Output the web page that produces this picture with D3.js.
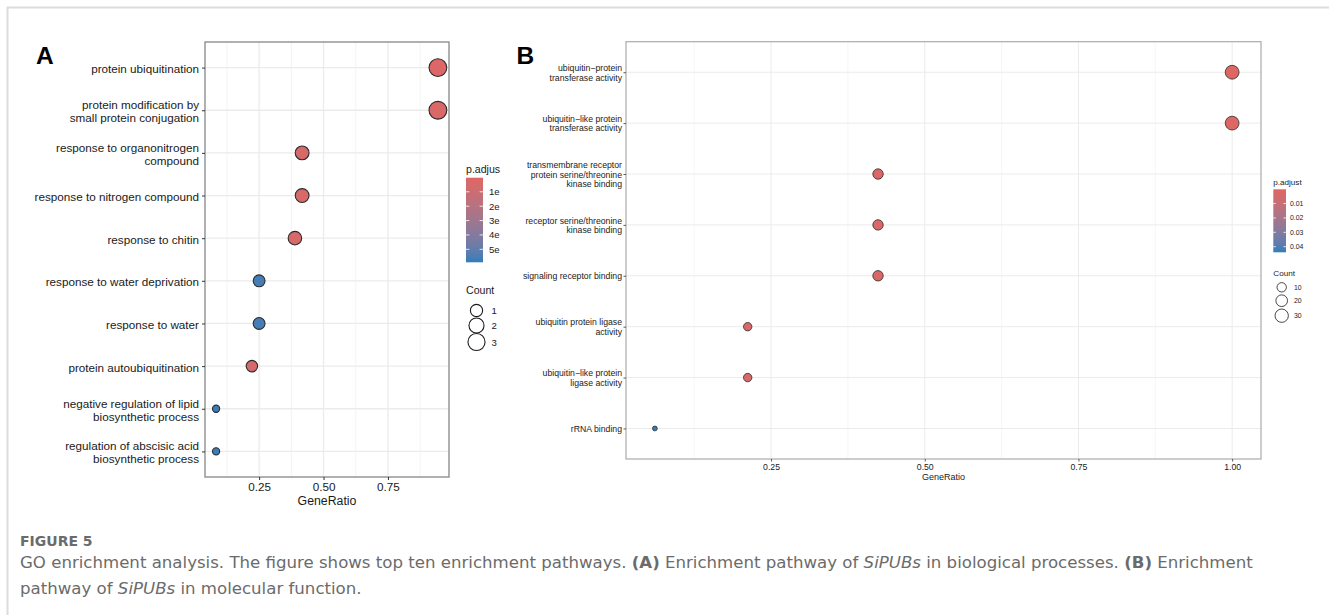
<!DOCTYPE html>
<html><head><meta charset="utf-8">
<script src="https://cdn.jsdelivr.net/npm/d3@7"></script>
<style>body{margin:0;background:#fff}svg{display:block}</style>
</head><body>
<svg id="chart" width="1329" height="615"></svg>
<script>
// ---------- DATA ----------
// Panel A: biological process (top -> bottom)
const categoriesA = [
  "protein ubiquitination",
  "protein modification by\nsmall protein conjugation",
  "response to organonitrogen\ncompound",
  "response to nitrogen compound",
  "response to chitin",
  "response to water deprivation",
  "response to water",
  "protein autoubiquitination",
  "negative regulation of lipid\nbiosynthetic process",
  "regulation of abscisic acid\nbiosynthetic process"
];
const geneRatioA = [0.944, 0.944, 0.417, 0.417, 0.389, 0.25, 0.25, 0.222, 0.083, 0.083];
const countA     = [34, 34, 15, 15, 14, 9, 9, 8, 3, 3];
const pAdjustA   = [0.2, 0.3, 0.4, 0.4, 0.5, 5.6, 5.6, 0.6, 5.8, 5.8]; // x 1e-05 (labels truncated in figure)
const xTicksA = [0.25, 0.5, 0.75];
const xTickLabelsA = ["0.25", "0.50", "0.75"];
const colorTicksA = [1, 2, 3, 4, 5];
const colorTickLabelsA = ["1e", "2e", "3e", "4e", "5e"];
const sizeTicksA = [10, 20, 30];
const sizeTickLabelsA = ["1", "2", "3"];

// Panel B: molecular function (top -> bottom)
const categoriesB = [
  "ubiquitin\u2212protein\ntransferase activity",
  "ubiquitin\u2212like protein\ntransferase activity",
  "transmembrane receptor\nprotein serine/threonine\nkinase binding",
  "receptor serine/threonine\nkinase binding",
  "signaling receptor binding",
  "ubiquitin protein ligase\nactivity",
  "ubiquitin\u2212like protein\nligase activity",
  "rRNA binding"
];
const geneRatioB = [1.0, 1.0, 0.424, 0.424, 0.424, 0.212, 0.212, 0.061];
const countB     = [33, 33, 14, 14, 14, 7, 7, 2];
const pAdjustB   = [0.0008, 0.0009, 0.0020, 0.0020, 0.0025, 0.0035, 0.0035, 0.0439];
const xTicksB = [0.25, 0.5, 0.75, 1.0];
const xTickLabelsB = ["0.25", "0.50", "0.75", "1.00"];
const colorTicksB = [0.01, 0.02, 0.03, 0.04];
const colorTickLabelsB = ["0.01", "0.02", "0.03", "0.04"];
const sizeTicksB = [10, 20, 30];
const sizeTickLabelsB = ["10", "20", "30"];

const lowColor = "#e06663", highColor = "#327eba";
const FONT = "'Liberation Sans', Arial, Helvetica, sans-serif";

const svg = d3.select("#chart");

// outer frame lines
svg.append("line").attr("x1", 7).attr("x2", 1329).attr("y1", 7.5).attr("y2", 7.5)
  .attr("stroke", "#dcdcdc").attr("stroke-width", 2);
svg.append("line").attr("x1", 7.5).attr("x2", 7.5).attr("y1", 7).attr("y2", 615)
  .attr("stroke", "#dcdcdc").attr("stroke-width", 2);

const defs = svg.append("defs");

function drawPanel(o) {
  const g = svg.append("g");
  const data = o.cats.map((c, i) => ({cat: c, ratio: o.ratio[i], count: o.count[i], p: o.padj[i]}));
  const ext = d3.extent(o.ratio), pad = (ext[1] - ext[0]) * 0.05;
  const x = d3.scaleLinear().domain([ext[0] - pad, ext[1] + pad]).range([o.left, o.right]);
  const y = d3.scalePoint().domain(o.cats).range([o.top, o.bottom]).padding(0.6);
  const cMin = d3.min(o.count), cMax = d3.max(o.count);
  const rs = d3.scaleSqrt().domain([0, cMax - cMin]).range([0, o.rMax - o.rMin]);
  const r = c => o.rMin + rs(Math.max(0, c - cMin));
  const colorPos = d3.scaleLinear().domain(o.colorDomain).range([o.cbTop, o.cbBottom]);
  const colorT = d3.scaleLinear().domain(o.colorDomain).range([0, 1]);
  const interp = d3.interpolateLab(lowColor, highColor);
  const col = v => interp(colorT(v));

  // grid
  const minor = [];
  const br = o.xTicks;
  const step = br[1] - br[0];
  for (let v = br[0] - step / 2; v <= x.domain()[1]; v += step) if (v >= x.domain()[0]) minor.push(v);
  g.selectAll(".minor").data(minor).join("line")
    .attr("x1", d => x(d)).attr("x2", d => x(d)).attr("y1", o.top).attr("y2", o.bottom)
    .attr("stroke", "#f2f2f2").attr("stroke-width", o.gridW * 0.7);
  g.selectAll(".majx").data(br.filter(v => v <= x.domain()[1])).join("line")
    .attr("x1", d => x(d)).attr("x2", d => x(d)).attr("y1", o.top).attr("y2", o.bottom)
    .attr("stroke", "#ebebeb").attr("stroke-width", o.gridW);
  g.selectAll(".majy").data(o.cats).join("line")
    .attr("y1", d => y(d)).attr("y2", d => y(d)).attr("x1", o.left).attr("x2", o.right)
    .attr("stroke", "#ebebeb").attr("stroke-width", o.gridW);

  // points
  g.selectAll(".pt").data(data).join("circle")
    .attr("cx", d => x(d.ratio)).attr("cy", d => y(d.cat)).attr("r", d => r(d.count))
    .attr("fill", d => col(d.p)).attr("stroke", "#2b2b2b").attr("stroke-width", o.ptStroke);

  // border
  g.append("rect").attr("x", o.left).attr("y", o.top)
    .attr("width", o.right - o.left).attr("height", o.bottom - o.top)
    .attr("fill", "none").attr("stroke", o.borderColor).attr("stroke-width", o.borderW);

  // x axis
  const xa = g.append("g").attr("transform", `translate(0,${o.bottom})`)
    .call(d3.axisBottom(x).tickValues(o.xTicks).tickFormat((d, i) => o.xTickLabels[i])
      .tickSize(o.tickLen).tickPadding(o.xPad));
  xa.select(".domain").remove();
  xa.selectAll("line").attr("stroke", "#333").attr("stroke-width", o.tickW);
  xa.selectAll("text").attr("font-family", FONT).attr("font-size", o.fs).attr("fill", "#1a1a1a");

  // y axis
  const ya = g.append("g").attr("transform", `translate(${o.left},0)`)
    .call(d3.axisLeft(y).tickSize(o.tickLen).tickPadding(o.yPad));
  ya.select(".domain").remove();
  ya.selectAll("line").attr("stroke", "#333").attr("stroke-width", o.tickW);
  ya.selectAll("text").each(function (d) {
    const t = d3.select(this);
    const lines = d.split("\n");
    t.text(null).attr("dy", null).attr("dominant-baseline", "central")
      .attr("font-family", FONT).attr("font-size", o.fs).attr("fill", "#1a1a1a");
    lines.forEach((ln, i) => {
      t.append("tspan").attr("x", t.attr("x")).attr("y", (i - (lines.length - 1) / 2) * o.lh).text(ln);
    });
  });

  // x title
  g.append("text").attr("x", (o.left + o.right) / 2).attr("y", o.titleY)
    .attr("text-anchor", "middle").attr("font-family", FONT).attr("font-size", o.titleFs)
    .attr("fill", "#1a1a1a").text("GeneRatio");

  // panel letter
  g.append("text").attr("x", o.letterX).attr("y", 63.5).attr("font-family", FONT)
    .attr("font-weight", "bold").attr("font-size", 24.5).attr("fill", "#000").text(o.letter);

  // colorbar legend
  const gid = "grad" + o.letter;
  const grad = defs.append("linearGradient").attr("id", gid)
    .attr("x1", 0).attr("x2", 0).attr("y1", 0).attr("y2", 1);
  d3.range(0, 1.0001, 0.1).forEach(t => grad.append("stop").attr("offset", t).attr("stop-color", interp(t)));
  g.append("text").attr("x", o.lgX).attr("y", o.lgTitleY).attr("font-family", FONT)
    .attr("font-size", o.lgTitleFs).attr("fill", "#1a1a1a").text(o.lgTitle);
  g.append("rect").attr("x", o.lgX).attr("y", o.cbTop).attr("width", o.cbW)
    .attr("height", o.cbBottom - o.cbTop).attr("fill", `url(#${gid})`);
  o.colorTicks.forEach((v, i) => {
    const yy = colorPos(v);
    [o.lgX, o.lgX + o.cbW - o.cbW * 0.2].forEach(xx => g.append("line")
      .attr("x1", xx).attr("x2", xx + o.cbW * 0.2).attr("y1", yy).attr("y2", yy)
      .attr("stroke", "#fff").attr("stroke-width", 0.8));
    g.append("text").attr("x", o.lgX + o.cbW + o.lgLabOff).attr("y", yy)
      .attr("dominant-baseline", "central").attr("font-family", FONT)
      .attr("font-size", o.lgFs).attr("fill", "#1a1a1a").text(o.colorTickLabels[i]);
  });
  // size legend
  g.append("text").attr("x", o.lgX).attr("y", o.cntTitleY).attr("font-family", FONT)
    .attr("font-size", o.lgTitleFs).attr("fill", "#1a1a1a").text("Count");
  o.sizeTicks.forEach((v, i) => {
    g.append("circle").attr("cx", o.sizeCx).attr("cy", o.sizeY[i]).attr("r", r(v))
      .attr("fill", "none").attr("stroke", "#1a1a1a").attr("stroke-width", o.ptStroke);
    g.append("text").attr("x", o.sizeLabX).attr("y", o.sizeY[i])
      .attr("dominant-baseline", "central").attr("font-family", FONT)
      .attr("font-size", o.lgFs).attr("fill", "#1a1a1a").text(o.sizeTickLabels[i]);
  });
}

drawPanel({
  letter: "A", letterX: 36,
  cats: categoriesA, ratio: geneRatioA, count: countA, padj: pAdjustA,
  left: 205, right: 449, top: 42, bottom: 477,
  xTicks: xTicksA, xTickLabels: xTickLabelsA,
  rMin: 3.6, rMax: 8.9, ptStroke: 1.1,
  fs: 11.7, lh: 12.9, titleFs: 12.3, titleY: 504.5,
  tickLen: 3, tickW: 1, xPad: 2.5, yPad: 3,
  gridW: 1.3, borderColor: "#8f8f8f", borderW: 1.4,
  colorDomain: [0.02, 5.9], cbTop: 177.7, cbBottom: 262.3, cbW: 17,
  lgX: 466, lgTitle: "p.adjus", lgTitleY: 172.5, lgTitleFs: 10.6, lgFs: 9.6, lgLabOff: 6,
  colorTicks: colorTicksA, colorTickLabels: colorTickLabelsA,
  cntTitleY: 294, sizeTicks: sizeTicksA, sizeTickLabels: sizeTickLabelsA,
  sizeCx: 476.5, sizeY: [310.5, 325.5, 342], sizeLabX: 491.5
});

drawPanel({
  letter: "B", letterX: 516.5,
  cats: categoriesB, ratio: geneRatioB, count: countB, padj: pAdjustB,
  left: 626, right: 1261, top: 41.7, bottom: 459,
  xTicks: xTicksB, xTickLabels: xTickLabelsB,
  rMin: 2.4, rMax: 6.9, ptStroke: 0.8,
  fs: 8.7, lh: 9.6, titleFs: 9, titleY: 479.5,
  tickLen: 2.5, tickW: 0.8, xPad: 2.2, yPad: 1.5,
  gridW: 1, borderColor: "#aaaaaa", borderW: 1.2,
  colorDomain: [0.0001, 0.0439], cbTop: 189.3, cbBottom: 252.3, cbW: 12.7,
  lgX: 1273.3, lgTitle: "p.adjust", lgTitleY: 184.5, lgTitleFs: 8.1, lgFs: 6.9, lgLabOff: 4,
  colorTicks: colorTicksB, colorTickLabels: colorTickLabelsB,
  cntTitleY: 276.3, sizeTicks: sizeTicksB, sizeTickLabels: sizeTickLabelsB,
  sizeCx: 1281.7, sizeY: [287.3, 300.7, 315.7], sizeLabX: 1294
});

// caption
const CAP = "'DejaVu Sans', 'Open Sans', sans-serif";
svg.append("text").attr("x", 20).attr("y", 546).attr("font-family", CAP)
  .attr("font-weight", "bold").attr("font-size", 14).attr("fill", "#6b6b6b").text("FIGURE 5");
const cap1 = svg.append("text").attr("x", 20).attr("y", 567.5).attr("font-family", CAP)
  .attr("font-size", 16.6).attr("fill", "#6b6b6b");
[["GO enrichment analysis. The figure shows top ten enrichment pathways. ", ""],
 ["(A)", "b"], [" Enrichment pathway of ", ""], ["SiPUBs", "i"],
 [" in biological processes. ", ""], ["(B)", "b"], [" Enrichment", ""]]
  .forEach(([s, st]) => {
    const ts = cap1.append("tspan").text(s);
    if (st === "b") ts.attr("font-weight", "bold");
    if (st === "i") ts.attr("font-style", "italic");
  });
const cap2 = svg.append("text").attr("x", 20).attr("y", 594).attr("font-family", CAP)
  .attr("font-size", 16.6).attr("fill", "#6b6b6b");
[["pathway of ", ""], ["SiPUBs", "i"], [" in molecular function.", ""]].forEach(([s, st]) => {
  const ts = cap2.append("tspan").text(s);
  if (st === "i") ts.attr("font-style", "italic");
});
</script>
</body></html>
